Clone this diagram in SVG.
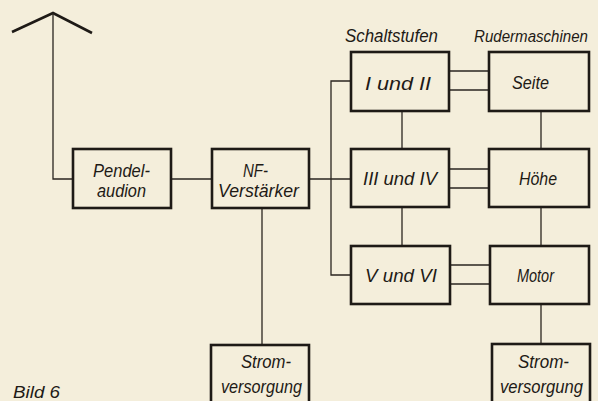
<svg xmlns="http://www.w3.org/2000/svg" width="598" height="401" viewBox="0 0 598 401">
<style>
.bg{fill:#f4eedb}
.box{fill:none;stroke:#1e1a16;stroke-width:2.6}
.ln{fill:none;stroke:#2a2520;stroke-width:1.3}
.ant{fill:none;stroke:#1e1a16;stroke-width:2.6;stroke-linejoin:miter}
text{font-family:"Liberation Sans",Arial,sans-serif;font-style:italic;font-size:19px;fill:#1e1a16}
text.hd{font-size:16px}
text.cap{font-size:17px}
</style>
<rect class="bg" x="0" y="0" width="598" height="401"/>
<g id="connectors">
<polyline class="ant" points="12,32 53,13 92,33"/>
<polyline class="ln" points="53,13 53,179 73,179"/>
<line class="ln" x1="171" y1="179" x2="212" y2="179"/>
<line class="ln" x1="309" y1="179" x2="351" y2="179"/>
<polyline class="ln" points="351,81 331,81 331,275 351,275"/>
<line class="ln" x1="449" y1="71" x2="489" y2="71"/>
<line class="ln" x1="449" y1="90" x2="489" y2="90"/>
<line class="ln" x1="449" y1="169" x2="489" y2="169"/>
<line class="ln" x1="449" y1="188" x2="489" y2="188"/>
<line class="ln" x1="450" y1="265" x2="490" y2="265"/>
<line class="ln" x1="450" y1="284" x2="490" y2="284"/>
<line class="ln" x1="402" y1="111" x2="402" y2="149"/>
<line class="ln" x1="402" y1="207" x2="402" y2="246"/>
<line class="ln" x1="541" y1="111" x2="541" y2="149"/>
<line class="ln" x1="541" y1="207" x2="541" y2="246"/>
<line class="ln" x1="541" y1="304" x2="541" y2="344"/>
<line class="ln" x1="262" y1="208" x2="262" y2="345"/>
</g>
<g id="labels">
<text x="345" y="42" textLength="93" lengthAdjust="spacingAndGlyphs">Schaltstufen</text>
<text class="hd" x="474" y="42" textLength="114" lengthAdjust="spacingAndGlyphs">Rudermaschinen</text>
<text class="cap" x="13" y="398" textLength="47" lengthAdjust="spacingAndGlyphs">Bild 6</text>
</g>
<g id="pendelaudion">
<rect class="box" x="73" y="149" width="98" height="59"/>
<text x="93" y="177" textLength="57" lengthAdjust="spacingAndGlyphs">Pendel-</text>
<text x="97" y="197" textLength="49" lengthAdjust="spacingAndGlyphs">audion</text>
</g>
<g id="nf-verstaerker">
<rect class="box" x="212" y="149" width="97" height="59"/>
<text x="243" y="177" textLength="25" lengthAdjust="spacingAndGlyphs">NF-</text>
<text x="218" y="197" textLength="81" lengthAdjust="spacingAndGlyphs">Verstärker</text>
</g>
<g id="stufe-1-2">
<rect class="box" x="351" y="52" width="98" height="59"/>
<text x="365" y="90" textLength="66" lengthAdjust="spacingAndGlyphs">I und II</text>
</g>
<g id="stufe-3-4">
<rect class="box" x="351" y="149" width="98" height="58"/>
<text x="363" y="185" textLength="74" lengthAdjust="spacingAndGlyphs">III und IV</text>
</g>
<g id="stufe-5-6">
<rect class="box" x="351" y="246" width="99" height="58"/>
<text x="365" y="282" textLength="72" lengthAdjust="spacingAndGlyphs">V und VI</text>
</g>
<g id="seite">
<rect class="box" x="489" y="52" width="100" height="59"/>
<text x="512" y="89" textLength="37" lengthAdjust="spacingAndGlyphs">Seite</text>
</g>
<g id="hoehe">
<rect class="box" x="489" y="149" width="100" height="58"/>
<text x="519" y="185" textLength="38" lengthAdjust="spacingAndGlyphs">Höhe</text>
</g>
<g id="motor">
<rect class="box" x="490" y="246" width="99" height="58"/>
<text x="517" y="282" textLength="37" lengthAdjust="spacingAndGlyphs">Motor</text>
</g>
<g id="stromversorgung-1">
<rect class="box" x="211" y="345" width="98" height="70"/>
<text x="241" y="368" textLength="50" lengthAdjust="spacingAndGlyphs">Strom-</text>
<text x="221" y="393" textLength="81" lengthAdjust="spacingAndGlyphs">versorgung</text>
</g>
<g id="stromversorgung-2">
<rect class="box" x="492" y="344" width="98" height="70"/>
<text x="518" y="368" textLength="51" lengthAdjust="spacingAndGlyphs">Strom-</text>
<text x="500" y="393" textLength="83" lengthAdjust="spacingAndGlyphs">versorgung</text>
</g>
</svg>
